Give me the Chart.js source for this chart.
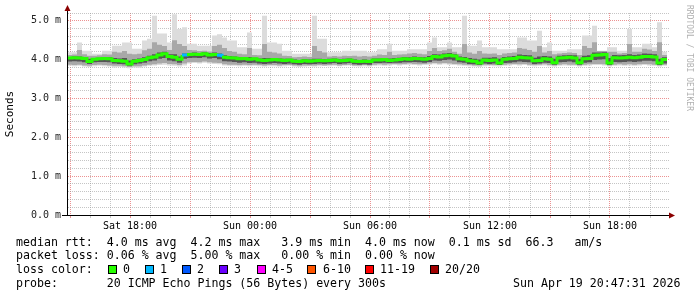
<!DOCTYPE html>
<html>
<head>
<meta charset="utf-8">
<script src="https://cdn.jsdelivr.net/npm/chart.js"></script>
<style>
  html, body { margin: 0; padding: 0; background: #fff; }
  #wrap { position: relative; width: 697px; height: 297px; overflow: hidden; font-family: 'DejaVu Sans Mono', monospace; color: #000; }
  #chart { position: absolute; left: 0; top: 0; }
  .ln { position: absolute; left: 16px; font-size: 11.6px; line-height: 14px; white-space: pre; }
  .box { position: absolute; top: 265px; width: 7px; height: 7px; border: 1px solid #000; }
  .lbl { position: absolute; top: 262px; font-size: 11.6px; line-height: 14px; white-space: pre; }
  #mark { position: absolute; left: 684px; top: 5px; writing-mode: vertical-rl; font-size: 8px; line-height: 10px; color: #b0b0b0; }
</style>
</head>
<body>
<div id="wrap">
  <canvas id="chart" width="697" height="297"></canvas>
  <div id="mark">RRDTOOL / TOBI OETIKER</div>
  <div class="ln" style="top:235px">median rtt:  4.0 ms avg  4.2 ms max   3.9 ms min  4.0 ms now  0.1 ms sd  66.3   am/s</div>
  <div class="ln" style="top:248px">packet loss: 0.06 % avg  5.00 % max   0.00 % min  0.00 % now</div>
  <div class="ln" style="top:262px">loss color:</div>
  <div id="lossLegend"></div>
  <div class="ln" style="top:276px">probe:       20 ICMP Echo Pings (56 Bytes) every 300s</div>
  <div class="ln" style="top:276px; left:513px">Sun Apr 19 20:47:31 2026</div>
</div>
<script>
// time axis: hours since Sat 00:00, one sample every 15 min
const T0 = 14.85;
const STEP = 0.25;

const xTickHours  = [18, 24, 30, 36, 42];
const xTickLabels = ['Sat 18:00', 'Sun 00:00', 'Sun 06:00', 'Sun 12:00', 'Sun 18:00'];
const yTickValues = [0, 1, 2, 3, 4, 5];
const yTickLabels = ['0.0 m', '1.0 m', '2.0 m', '3.0 m', '4.0 m', '5.0 m'];

// loss legend
const lossLabels = ['0', '1', '2', '3', '4-5', '6-10', '11-19', '20/20'];
const lossColors = ['#26ff00', '#00b8ff', '#0059ff', '#6a00ff', '#ff00ff', '#ff5500', '#ff0000', '#a10000'];

// rtt in ms
const median = [
  4.04,4.05,4.04,4.03,3.95,4.01,4.02,4.03,4.02,3.98,
  3.97,3.96,3.89,3.96,3.98,4.00,4.05,4.07,4.12,4.15,
  4.08,4.06,4.01,4.12,4.13,4.14,4.13,4.15,4.12,4.13,
  4.11,4.06,4.05,4.04,4.02,4.03,4.01,4.02,3.99,3.98,
  3.99,4.00,3.99,3.98,3.99,3.96,3.95,3.97,3.96,3.97,
  3.98,3.97,3.98,3.99,3.97,3.98,3.99,3.96,3.95,3.96,
  3.95,3.99,3.99,4.00,3.98,3.99,4.00,4.02,4.01,4.03,
  4.02,4.01,4.03,4.08,4.07,4.10,4.11,4.09,4.02,4.01,
  3.97,3.96,3.91,3.99,3.98,3.99,3.91,4.01,4.02,4.03,
  4.06,4.05,4.04,3.97,3.98,4.02,4.01,3.92,4.04,4.05,
  4.06,4.04,3.92,4.02,4.03,4.11,4.12,4.13,3.91,4.05,
  4.04,4.05,4.06,4.05,4.06,4.08,4.08,4.07,3.91,4.00
];
// pings lost (of 20) per sample
const lost = [
  0,0,0,0,0,0,0,0,0,0, 0,0,0,0,0,0,0,0,0,0,
  0,0,0,1,0,0,0,0,0,0, 1,0,0,0,0,0,0,0,0,0,
  0,0,0,0,0,0,0,0,0,0, 0,0,0,0,0,0,0,0,0,0,
  0,0,0,0,0,0,0,0,0,0, 0,0,0,0,0,0,0,0,0,0,
  0,0,0,0,0,0,0,0,0,0, 0,0,0,0,0,0,0,0,0,0,
  0,0,0,0,0,0,0,0,0,0, 0,0,0,0,0,0,0,0,0,0
];
const rttMax = [
  4.19,4.19,4.44,4.23,4.23,4.15,4.15,4.23,4.23,4.36,
  4.36,4.44,4.44,4.28,4.28,4.49,4.54,5.13,4.67,4.67,
  4.44,5.17,4.79,4.83,4.41,4.41,4.36,4.36,4.36,4.62,
  4.65,4.57,4.49,4.49,4.32,4.32,4.70,4.28,4.28,5.13,
  4.44,4.44,4.41,4.23,4.23,4.15,4.15,4.15,4.15,5.13,
  4.54,4.54,4.19,4.19,4.19,4.23,4.23,4.23,4.23,4.23,
  4.19,4.19,4.27,4.27,4.41,4.23,4.23,4.23,4.27,4.27,
  4.27,4.27,4.44,4.57,4.32,4.32,4.44,4.32,4.32,5.13,
  4.36,4.36,4.49,4.32,4.32,4.32,4.27,4.27,4.27,4.27,
  4.57,4.57,4.49,4.49,4.74,4.32,4.44,4.23,4.23,4.23,
  4.27,4.27,4.27,4.62,4.62,4.87,4.23,4.23,4.32,4.32,
  4.23,4.23,4.79,4.32,4.32,4.41,4.41,4.32,4.96,4.20
];
const rttMin = [
  3.84,3.83,3.84,3.82,3.81,3.83,3.84,3.83,3.82,3.80,
  3.81,3.80,3.78,3.80,3.79,3.82,3.84,3.85,3.86,3.87,
  3.85,3.84,3.82,3.85,3.90,3.91,3.90,3.92,3.90,3.89,
  3.88,3.85,3.84,3.84,3.83,3.84,3.83,3.84,3.83,3.82,
  3.83,3.83,3.82,3.83,3.84,3.82,3.81,3.82,3.83,3.82,
  3.83,3.84,3.83,3.84,3.83,3.84,3.85,3.83,3.82,3.83,
  3.82,3.84,3.85,3.84,3.85,3.86,3.85,3.86,3.87,3.86,
  3.85,3.86,3.87,3.88,3.87,3.88,3.87,3.86,3.85,3.84,
  3.83,3.82,3.81,3.83,3.84,3.83,3.82,3.84,3.85,3.86,
  3.85,3.86,3.84,3.83,3.84,3.85,3.83,3.82,3.84,3.85,
  3.84,3.84,3.82,3.84,3.85,3.86,3.86,3.85,3.82,3.84,
  3.85,3.84,3.85,3.84,3.85,3.86,3.85,3.84,3.82,3.84
];
const rttHi = [
  4.12,4.13,4.25,4.14,4.10,4.10,4.11,4.14,4.13,4.20,
  4.18,4.22,4.15,4.14,4.15,4.24,4.28,4.45,4.38,4.35,
  4.25,4.50,4.40,4.35,4.25,4.24,4.22,4.23,4.21,4.35,
  4.38,4.30,4.22,4.20,4.15,4.14,4.30,4.12,4.11,4.40,
  4.20,4.18,4.16,4.10,4.09,4.06,4.07,4.08,4.07,4.35,
  4.22,4.18,4.08,4.09,4.08,4.10,4.09,4.10,4.08,4.09,
  4.08,4.10,4.13,4.12,4.20,4.12,4.13,4.14,4.16,4.17,
  4.15,4.14,4.22,4.30,4.22,4.24,4.28,4.20,4.15,4.40,
  4.18,4.15,4.22,4.16,4.15,4.16,4.12,4.16,4.17,4.18,
  4.30,4.28,4.25,4.20,4.35,4.18,4.22,4.14,4.16,4.17,
  4.18,4.17,4.12,4.35,4.30,4.45,4.22,4.22,4.20,4.20,
  4.16,4.17,4.40,4.20,4.20,4.28,4.26,4.22,4.45,4.12
];
const rttLo = [
  3.87,3.86,3.87,3.85,3.84,3.86,3.87,3.86,3.85,3.84,
  3.84,3.83,3.81,3.83,3.83,3.85,3.87,3.88,3.90,3.91,
  3.89,3.88,3.86,3.90,3.93,3.94,3.93,3.95,3.93,3.92,
  3.91,3.88,3.87,3.87,3.86,3.87,3.86,3.87,3.86,3.85,
  3.86,3.86,3.85,3.86,3.86,3.85,3.84,3.85,3.85,3.85,
  3.86,3.85,3.86,3.87,3.85,3.86,3.87,3.85,3.85,3.86,
  3.85,3.87,3.88,3.87,3.88,3.89,3.88,3.89,3.90,3.89,
  3.88,3.89,3.90,3.91,3.90,3.91,3.90,3.89,3.88,3.87,
  3.86,3.85,3.85,3.87,3.86,3.86,3.86,3.87,3.88,3.89,
  3.88,3.89,3.87,3.86,3.87,3.88,3.86,3.85,3.87,3.88,
  3.87,3.87,3.85,3.87,3.88,3.89,3.89,3.88,3.85,3.87,
  3.88,3.87,3.88,3.87,3.88,3.89,3.88,3.87,3.85,3.87
];
const coreHi = [
  4.07,4.08,4.08,4.06,4.02,4.04,4.05,4.07,4.06,4.04,
  4.03,4.04,3.98,4.01,4.03,4.06,4.10,4.14,4.18,4.20,
  4.14,4.14,4.08,4.16,4.17,4.18,4.17,4.19,4.17,4.18,
  4.16,4.11,4.09,4.08,4.06,4.07,4.07,4.05,4.03,4.04,
  4.04,4.04,4.03,4.02,4.02,4.00,3.99,4.01,4.00,4.02,
  4.02,4.01,4.02,4.03,4.01,4.02,4.03,4.00,3.99,4.00,
  3.99,4.03,4.03,4.04,4.03,4.04,4.05,4.07,4.06,4.08,
  4.07,4.06,4.09,4.14,4.13,4.16,4.17,4.14,4.08,4.07,
  4.04,4.02,4.00,4.05,4.05,4.06,4.02,4.07,4.08,4.09,
  4.13,4.12,4.11,4.05,4.08,4.09,4.08,4.02,4.10,4.11,
  4.12,4.11,4.02,4.10,4.11,4.18,4.18,4.19,4.04,4.12,
  4.11,4.12,4.14,4.12,4.13,4.16,4.15,4.14,4.02,4.06
];
const coreLo = [
  3.95,3.96,3.95,3.93,3.89,3.93,3.94,3.94,3.93,3.90,
  3.89,3.88,3.84,3.88,3.90,3.92,3.96,3.98,4.02,4.04,
  3.98,3.96,3.92,4.02,4.04,4.05,4.04,4.06,4.03,4.04,
  4.01,3.96,3.95,3.94,3.92,3.93,3.91,3.92,3.90,3.89,
  3.90,3.91,3.90,3.89,3.90,3.88,3.87,3.89,3.88,3.89,
  3.90,3.89,3.90,3.91,3.89,3.90,3.91,3.88,3.87,3.88,
  3.87,3.91,3.91,3.92,3.91,3.92,3.92,3.93,3.93,3.94,
  3.93,3.92,3.94,3.98,3.97,3.99,4.00,3.98,3.93,3.92,
  3.89,3.88,3.86,3.90,3.89,3.90,3.86,3.91,3.92,3.93,
  3.95,3.94,3.93,3.89,3.90,3.92,3.91,3.87,3.93,3.94,
  3.95,3.93,3.87,3.92,3.93,3.99,4.00,4.01,3.86,3.94,
  3.93,3.94,3.95,3.94,3.95,3.97,3.97,3.96,3.86,3.90
];

const MAJOR = 'rgba(230, 110, 110, 0.75)';
const MINOR = 'rgba(150, 150, 150, 0.55)';

// sample i covers [T0 + i*STEP, T0 + (i+1)*STEP): repeat last value to close the step
function pts(arr) {
  return arr.concat([arr[arr.length - 1]]).map((v, i) => ({ x: T0 + i * STEP, y: v }));
}

function band(hi, lo, color, order) {
  const common = { pointRadius: 0, borderWidth: 0, borderColor: 'transparent', stepped: true, order };
  return [
    Object.assign({ data: pts(hi), fill: '+1', backgroundColor: color }, common),
    Object.assign({ data: pts(lo), fill: false }, common)
  ];
}

const hourGrid = [];
for (let h = 15; h <= 44; h++) hourGrid.push(h);
const yGrid = [];
for (let i = 0; i <= 26; i++) yGrid.push(Math.round(i * 2) / 10);

const isMajorY = v => Math.abs(v - Math.round(v)) < 1e-6;

const axisArrows = {
  id: 'axisArrows',
  afterDraw(chart) {
    const { ctx, chartArea: a } = chart;
    ctx.save();
    ctx.strokeStyle = '#000';
    ctx.lineWidth = 1;
    ctx.beginPath();
    ctx.moveTo(62, Math.round(a.bottom) + 0.5);
    ctx.lineTo(a.right + 1, Math.round(a.bottom) + 0.5);
    ctx.moveTo(Math.round(a.left) + 0.5, a.bottom);
    ctx.lineTo(Math.round(a.left) + 0.5, a.top - 3);
    ctx.stroke();
    ctx.fillStyle = '#8b0000';
    ctx.beginPath();
    const lx = Math.round(a.left) + 0.5;
    ctx.moveTo(lx - 3, a.top - 2);
    ctx.lineTo(lx + 3, a.top - 2);
    ctx.lineTo(lx, a.top - 8);
    ctx.closePath();
    ctx.fill();
    const by = Math.round(a.bottom) + 0.5;
    ctx.beginPath();
    ctx.moveTo(a.right, by - 3);
    ctx.lineTo(a.right, by + 3);
    ctx.lineTo(a.right + 6, by);
    ctx.closePath();
    ctx.fill();
    ctx.restore();
  }
};

Chart.defaults.font.family = "'DejaVu Sans Mono', monospace";
Chart.defaults.color = '#000';

new Chart(document.getElementById('chart').getContext('2d'), {
  type: 'line',
  data: {
    datasets: [
      ...band(rttMax, rttMin, '#dcdcdc', 5),
      ...band(rttHi, rttLo, '#a8a8a8', 4),
      ...band(coreHi, coreLo, '#555555', 3),
      {
        data: pts(median),
        borderColor: lossColors[0],
        borderWidth: 3,
        borderCapStyle: 'butt',
        borderJoinStyle: 'miter',
        pointRadius: 0,
        stepped: true,
        fill: false,
        order: 1,
        segment: { borderColor: c => lossColors[Math.min(lost[c.p0DataIndex], 1)] }
      }
    ]
  },
  options: {
    responsive: false,
    animation: false,
    events: [],
    layout: { padding: { top: 13, right: 28, bottom: 0, left: 0 } },
    plugins: { legend: { display: false }, tooltip: { enabled: false } },
    scales: {
      x: {
        type: 'linear',
        min: T0,
        max: 44.95,
        afterBuildTicks: s => { s.ticks = hourGrid.map(h => ({ value: h })); },
        afterFit: s => { s.height = 82; },
        grid: {
          color: c => (c.tick && c.tick.value % 3 === 0) ? MAJOR : MINOR,
          drawTicks: true,
          tickLength: 3
        },
        border: { display: true, color: '#000', dash: [1, 1] },
        ticks: {
          autoSkip: false,
          maxRotation: 0,
          padding: 2,
          font: { size: 10 },
          color: '#000',
          callback: v => { const k = xTickHours.indexOf(v); return k >= 0 ? xTickLabels[k] : ''; }
        }
      },
      y: {
        min: 0,
        max: 5.2,
        afterBuildTicks: s => { s.ticks = yGrid.map(v => ({ value: v })); },
        afterFit: s => { s.width = 67; },
        grid: {
          color: c => (c.tick && isMajorY(c.tick.value)) ? MAJOR : MINOR,
          drawTicks: false
        },
        border: { display: true, color: '#555', dash: [1, 1] },
        ticks: {
          autoSkip: false,
          padding: 6,
          font: { size: 10 },
          color: '#222',
          callback: v => { const k = yTickValues.findIndex(t => Math.abs(t - v) < 1e-6); return k >= 0 ? yTickLabels[k] : ''; }
        },
        title: { display: true, text: 'Seconds', font: { size: 11 }, color: '#000' }
      }
    }
  },
  plugins: [axisArrows]
});

// loss colour legend
const boxX = [108, 145, 182, 219, 257, 307, 365, 430];
const lblX = [123, 160, 197, 234, 272, 323, 380, 445];
const legend = document.getElementById('lossLegend');
lossLabels.forEach((l, i) => {
  const b = document.createElement('div');
  b.className = 'box';
  b.style.left = boxX[i] + 'px';
  b.style.background = lossColors[i];
  legend.appendChild(b);
  const t = document.createElement('div');
  t.className = 'lbl';
  t.style.left = lblX[i] + 'px';
  t.textContent = l;
  legend.appendChild(t);
});
</script>
</body>
</html>
